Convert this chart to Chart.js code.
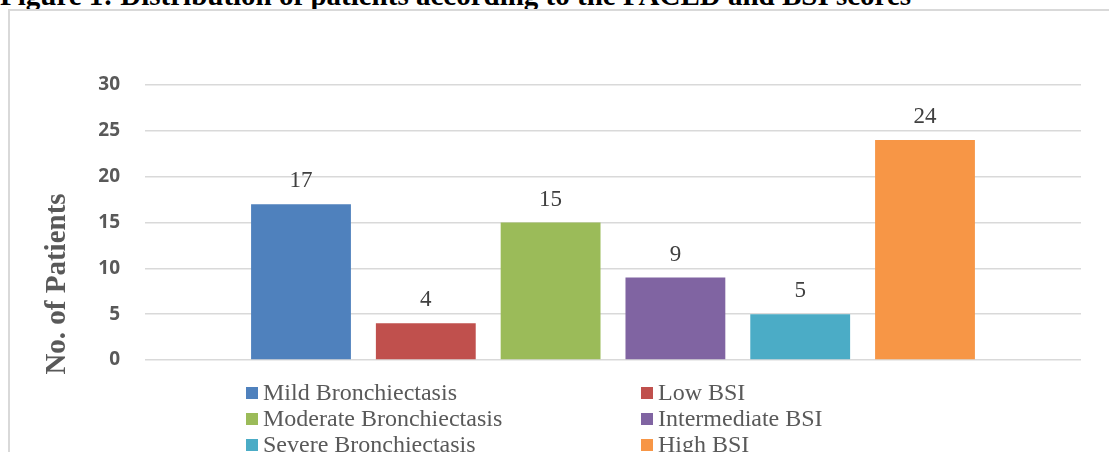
<!DOCTYPE html>
<html>
<head>
<meta charset="utf-8">
<script src="https://cdn.jsdelivr.net/npm/chart.js@4/dist/chart.umd.min.js"></script>
<style>
    html, body { margin: 0; padding: 0; background: #fff; overflow: hidden; }
    body { width: 1109px; height: 452px; position: relative; }
    .fig-title {
        position: absolute; left: 0; top: -21px; white-space: nowrap;
        font: bold 29px 'Liberation Serif', 'Times New Roman', serif; line-height: 32px; color: #000;
    }
    .chart-box {
        position: absolute; left: 8px; top: 9px; width: 1200px; height: 600px;
        border: 2px solid #d9d9d9; box-sizing: border-box;
    }
    #chart { position: absolute; left: 0; top: 0; }
    .legend-item {
        position: absolute; white-space: nowrap; padding-left: 17px;
        font: 24px 'Liberation Serif', 'Times New Roman', serif; line-height: 26px; color: #595959;
    }
    .legend-item span {
        position: absolute; left: 0; top: 8px; width: 12px; height: 12px;
    }
</style>
</head>
<body>
<div class="fig-title">Figure 1: Distribution of patients according to the FACED and BSI scores</div>
<div class="chart-box"></div>
<canvas id="chart" width="1109" height="452"></canvas>
<div id="legend"></div>

<script>
// ===== 数据 =====
const seriesNames = ['Mild Bronchiectasis', 'Low BSI', 'Moderate Bronchiectasis', 'Intermediate BSI', 'Severe Bronchiectasis', 'High BSI'];
const seriesValues = [17, 4, 15, 9, 5, 24];
const seriesColors = ['#4F81BD', '#C0504D', '#9BBB59', '#8064A2', '#4BACC6', '#F79646'];
const categories = [''];
const yTicks = [0, 5, 10, 15, 20, 25, 30];
const yTitle = 'No. of Patients';

// 柱顶数值
const valueLabels = {
    id: 'valueLabels',
    afterDatasetsDraw(chart) {
        const ctx = chart.ctx;
        ctx.save();
        ctx.font = "23px 'Liberation Serif', 'Times New Roman', serif";
        ctx.fillStyle = '#404040';
        ctx.textAlign = 'center';
        ctx.textBaseline = 'alphabetic';
        chart.data.datasets.forEach((ds, i) => {
            chart.getDatasetMeta(i).data.forEach((bar, j) => {
                ctx.fillText(ds.data[j], bar.x, bar.y - 17);
            });
        });
        ctx.restore();
    }
};

// 纵轴标题（位置偏下，自己画）
const yAxisTitle = {
    id: 'yAxisTitle',
    afterDraw(chart) {
        const ctx = chart.ctx;
        ctx.save();
        ctx.translate(65, 284);
        ctx.rotate(-Math.PI / 2);
        ctx.font = "bold 29px 'Liberation Serif', 'Times New Roman', serif";
        ctx.fillStyle = '#595959';
        ctx.textAlign = 'center';
        ctx.textBaseline = 'alphabetic';
        ctx.fillText(yTitle, 0, 0);
        ctx.restore();
    }
};

new Chart(document.getElementById('chart'), {
    type: 'bar',
    data: {
        labels: categories,
        datasets: seriesNames.map((name, i) => ({
            label: name,
            data: [seriesValues[i]],
            backgroundColor: seriesColors[i],
            categoryPercentage: 0.8,
            barPercentage: 0.8
        }))
    },
    options: {
        responsive: false,
        animation: false,
        layout: { padding: { left: 0, top: 85, right: 28, bottom: 92 } },
        plugins: { legend: { display: false }, tooltip: { enabled: false } },
        scales: {
            x: { display: false },
            y: {
                min: yTicks[0],
                max: yTicks[yTicks.length - 1],
                afterFit(scale) { scale.width = 145; },
                afterBuildTicks(scale) { scale.ticks = yTicks.map(v => ({ value: v })); },
                border: { display: false },
                grid: { color: '#d9d9d9', lineWidth: 1.5, drawTicks: false },
                ticks: {
                    padding: 25,
                    color: '#595959',
                    font: { family: "'Open Sans', sans-serif", weight: 'bold', size: 19 }
                }
            }
        }
    },
    plugins: [valueLabels, yAxisTitle]
});

// 图例：两列
document.getElementById('legend').innerHTML = seriesNames.map((name, i) => `
    <div class="legend-item" style="left: ${i % 2 ? 641 : 246}px; top: ${379 + Math.floor(i / 2) * 26}px;">
        <span style="background: ${seriesColors[i]};"></span>${name}
    </div>
`).join('');
</script>
</body>
</html>
